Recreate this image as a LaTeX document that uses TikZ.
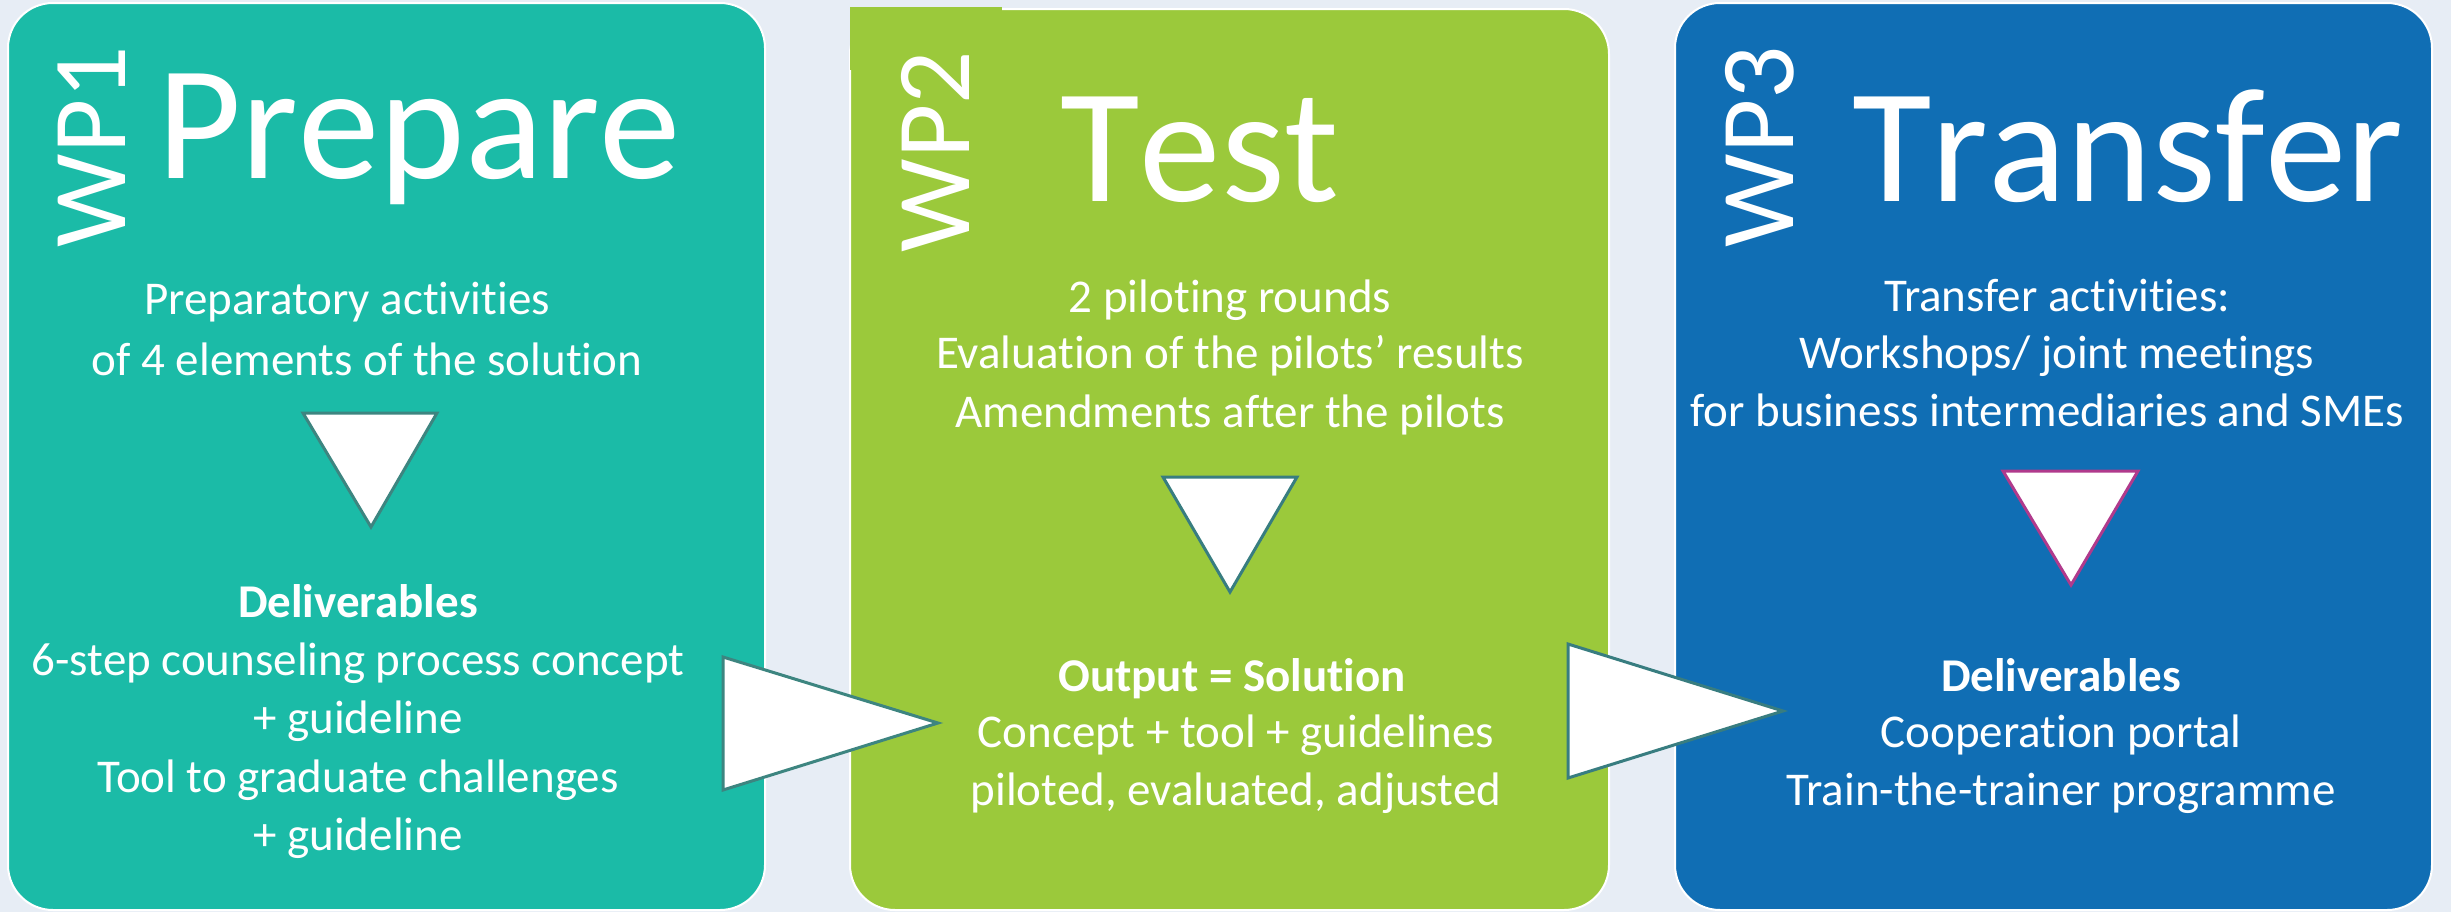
\documentclass[tikz,border=0pt]{standalone}
\usepackage{fontspec}
\setmainfont{Carlito}[Ligatures=NoCommon]
\newfontfamily\titlefont{Carlito}[Ligatures=NoCommon, Kerning=Off]
\definecolor{bgc}{HTML}{E7EDF5}
\definecolor{tealc}{HTML}{1BBBA7}
\definecolor{greenc}{HTML}{9BC93B}
\definecolor{bluec}{HTML}{106EB4}
\definecolor{tealline}{HTML}{3D8580}
\definecolor{greenline}{HTML}{387D80}
\definecolor{magline}{HTML}{B03A8C}
\tikzset{
  wpbox/.style={draw=white, line width=1bp, rounded corners=22.5bp},
  body/.style={text=white, font=\fontsize{23.5bp}{28bp}\selectfont, anchor=base, inner sep=0pt},
  bodyb/.style={body, font=\fontsize{23.5bp}{28bp}\selectfont\bfseries},
  title/.style={text=white, font=\titlefont\fontsize{81.5bp}{90bp}\selectfont, anchor=base, inner sep=0pt},
  wplabel/.style={text=white, font=\titlefont\fontsize{52.5bp}{60bp}\selectfont, anchor=base, rotate=90, inner sep=0pt},
  tri/.style={fill=white, draw=#1, line width=1.5bp, line join=miter}
}
\begin{document}
\begin{tikzpicture}[x=0.5bp,y=-0.5bp]
\useasboundingbox (0,0) rectangle (2451,912);
\fill[bgc] (0,0) rectangle (2451,912);

% boxes
\filldraw[wpbox, fill=tealc] (8,3) rectangle (765,910);
\filldraw[wpbox, fill=greenc] (850,9) rectangle (1609,910);
\fill[greenc] (850,7) rectangle (1002,70);
\filldraw[wpbox, fill=bluec] (1675,3) rectangle (2432,910);

% box 1
\node[wplabel] (wp1) at (125,147) {WP1};
\node[title] (prepare) at (419,178) {Prepare};
\node[body] (b1a) at (347,314) {Preparatory activities};
\node[body] (b1b) at (367,375) {of 4 elements of the solution};
\node[bodyb] (b1c) at (358,617) {Deliverables};
\node[body] (b1d) at (358,675) {6-step counseling process concept};
\node[body] (b1e) at (358,733) {+ guideline};
\node[body] (b1f) at (358,792) {Tool to graduate challenges};
\node[body] (b1g) at (358,850) {+ guideline};

% box 2
\node[wplabel] (wp2) at (969,152) {WP2};
\node[title] (test) at (1200,201) {Test};
\node[body] (b2a) at (1230,312) {2 piloting rounds};
\node[body] (b2b) at (1230,368) {Evaluation of the pilots’ results};
\node[body] (b2c) at (1230,427) {Amendments after the pilots};
\node[bodyb] (b2d) at (1232,691) {Output = Solution};
\node[body] (b2e) at (1236,747) {Concept + tool + guidelines};
\node[body] (b2f) at (1236,805) {piloted, evaluated, adjusted};

% box 3
\node[wplabel] (wp3) at (1793,147) {WP3};
\node[title] (transfer) at (2128,201) {Transfer};
\node[body] (b3a) at (2057,311) {Transfer activities:};
\node[body] (b3b) at (2057,368) {Workshops/ joint meetings};
\node[body] (b3c) at (2047,426) {for business intermediaries and SMEs};
\node[bodyb] (b3d) at (2061,691) {Deliverables};
\node[body] (b3e) at (2061,747) {Cooperation portal};
\node[body] (b3f) at (2061,805) {Train-the-trainer programme};

% down triangles
\draw[tri=tealline] (303,413) -- (437,413) -- (371,527) -- cycle;
\draw[tri=greenline] (1163,477) -- (1297,477) -- (1230,592) -- cycle;
\draw[tri=magline] (2003,471) -- (2138,471) -- (2071,585) -- cycle;

% right arrows
\draw[tri=tealline] (723,657) -- (723,790) -- (938,723) -- cycle;
\draw[tri=greenline] (1568,644) -- (1568,778) -- (1783,711) -- cycle;
\end{tikzpicture}
\end{document}
